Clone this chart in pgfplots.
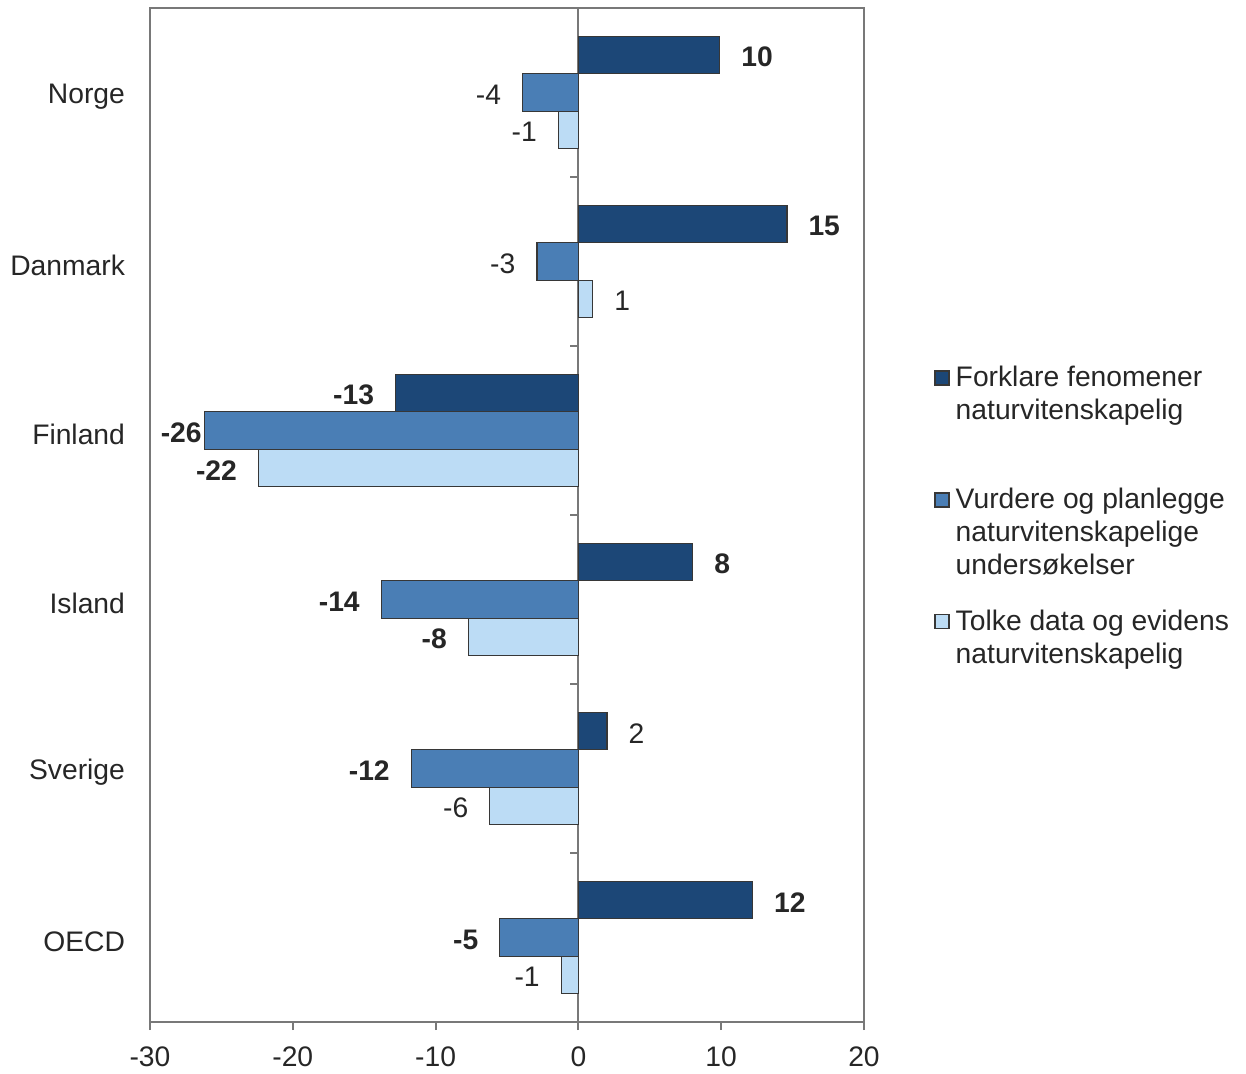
\documentclass[border=0pt]{standalone}
\usepackage{fontspec}
\setmainfont{Liberation Sans}
\usepackage{pgfplots}
\pgfplotsset{compat=1.18}
\definecolor{cdark}{RGB}{28,71,119}
\definecolor{cmed}{RGB}{74,126,181}
\definecolor{clight}{RGB}{188,220,245}
\definecolor{cedge}{RGB}{55,55,55}
\definecolor{caxis}{RGB}{120,120,120}
\newcommand{\legtxt}[1]{\parbox[t]{120pt}{#1}}
\begin{document}
\begin{tikzpicture}
\begin{axis}[
  at={(0,0)}, anchor=south west,
  width=285.6pt, height=405.6pt, scale only axis,
  xbar, bar width=0.222,
  xmin=-30, xmax=20, ymin=-0.5, ymax=5.5,
  xtick={-30,-20,-10,0,10,20},
  xticklabels={-30,-20,-10,0,10,20},
  ytick={0,1,2,3,4,5},
  yticklabels={OECD,Sverige,Island,Finland,Danmark,Norge},
  font=\fontsize{11.3}{13.2}\selectfont,
  axis line style={caxis, line width=0.8pt},
  xtick pos=bottom, tick align=outside,
  major tick length=3.2pt,
  tick style={caxis, line width=0.8pt},
  ytick style={draw=none},
  yticklabel style={xshift=-3.3pt, yshift=-1.6pt, text=black!85},
  xticklabel style={yshift=-3.2pt, text=black!85},
  extra x ticks={0}, extra x tick labels={},
  extra x tick style={grid=major, major grid style={caxis, line width=0.8pt}},
  point meta=explicit symbolic,
  visualization depends on={rawx \as \xval},
  nodes near coords,
  nodes near coords style={font=\fontsize{11.3}{13.2}\selectfont, inner xsep=8.4pt, text=black!85, yshift=-0.9pt,
    anchor={\ifdim\xval pt<0pt east\else west\fi}},
  legend style={at={(rel axis cs:1,0.647)}, anchor=north west, xshift=28pt, draw=none, inner sep=0pt,
    nodes={inner sep=0pt, text=black!85, text depth=40.6pt},
    cells={anchor=base west},
    /tikz/every odd column/.append style={column sep=2.4pt},
    row sep=0pt, font=\fontsize{11.3}{13.2}\selectfont},
  legend image code/.code={\draw[#1] (0pt,0.8pt) rectangle (5.6pt,6.4pt);},
]
\addplot[draw=cedge, fill=cdark, line width=0.5pt, bar shift=0.222] coordinates {
 (9.9,5) [\textbf{10}]
 (14.6,4) [\textbf{15}]
 (-12.8,3) [\textbf{-13}]
 (8.0,2) [\textbf{8}]
 (2.0,1) [2]
 (12.2,0) [\textbf{12}]
};
\addplot[draw=cedge, fill=cmed, line width=0.5pt, bar shift=0] coordinates {
 (-3.9,5) [-4]
 (-2.9,4) [-3]
 (-26.2,3) [\textbf{-26}\kern-7.6pt]
 (-13.8,2) [\textbf{-14}]
 (-11.7,1) [\textbf{-12}]
 (-5.5,0) [\textbf{-5}]
};
\addplot[draw=cedge, fill=clight, line width=0.5pt, bar shift=-0.222] coordinates {
 (-1.4,5) [-1]
 (1.0,4) [1]
 (-22.4,3) [\textbf{-22}]
 (-7.7,2) [\textbf{-8}]
 (-6.2,1) [-6]
 (-1.2,0) [-1]
};
\legend{\legtxt{Forklare fenomener\\naturvitenskapelig},\legtxt{Vurdere og planlegge\\naturvitenskapelige\\undersøkelser},\legtxt{Tolke data og evidens\\naturvitenskapelig}}
\pgfplotsinvokeforeach{0.5,1.5,2.5,3.5,4.5}{\draw[caxis, line width=0.8pt] (axis cs:0,#1) -- ++(-3.2pt,0pt);}
\end{axis}
\pgfresetboundingbox
\path[use as bounding box] (-60pt,-20.4pt) rectangle (438.4pt,408.8pt);
\end{tikzpicture}
\end{document}
